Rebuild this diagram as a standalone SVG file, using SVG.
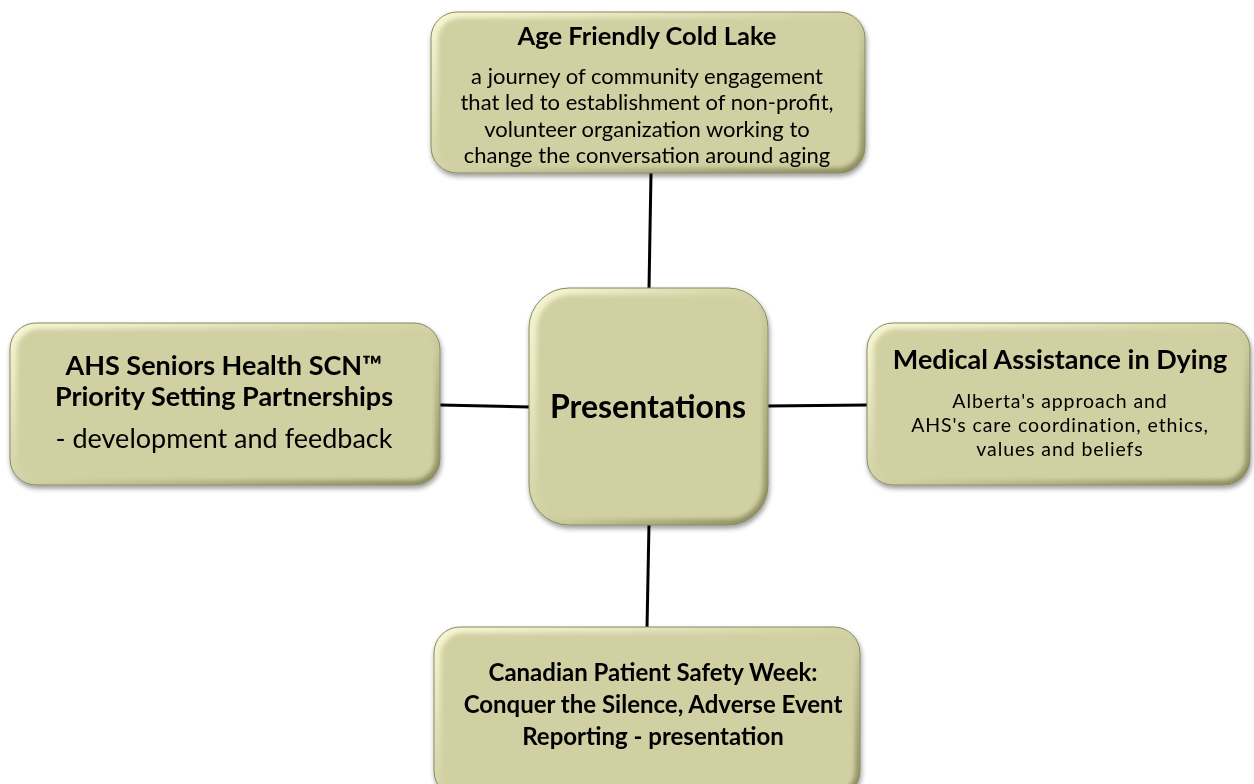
<svg xmlns="http://www.w3.org/2000/svg" width="1254" height="784" viewBox="0 0 1254 784">
<defs>
<linearGradient id="bevel" x1="0" y1="0" x2="1" y2="1">
<stop offset="0" stop-color="#f7f7d4"/>
<stop offset="0.5" stop-color="#d2d2a6"/>
<stop offset="1" stop-color="#8a8a5e"/>
</linearGradient>
<filter id="shadow" x="-10%" y="-10%" width="120%" height="130%">
<feGaussianBlur in="SourceAlpha" stdDeviation="2.5"/>
<feOffset dx="1" dy="3" result="b"/>
<feComponentTransfer><feFuncA type="linear" slope="0.4"/></feComponentTransfer>
<feMerge><feMergeNode/><feMergeNode in="SourceGraphic"/></feMerge>
</filter>
<filter id="soft"><feGaussianBlur stdDeviation="2"/></filter>
</defs>
<style>
.outer{fill:url(#bevel);stroke:#8a8a60;stroke-width:1}
.inner{fill:#d0d0a3;filter:url(#soft)}
.t{font-family:Lato,"Open Sans","Liberation Sans",sans-serif;fill:#000;text-anchor:middle}
.b{font-weight:bold}
.conn{stroke:#000;stroke-width:3;fill:none}
</style>
<g id="connectors">
<line class="conn" x1="651" y1="173" x2="649" y2="289"/>
<line class="conn" x1="440" y1="405" x2="530" y2="407"/>
<line class="conn" x1="767" y1="406" x2="868" y2="405"/>
<line class="conn" x1="649" y1="524" x2="647" y2="628"/>
</g>
<g id="top" filter="url(#shadow)">
<rect class="outer" x="431" y="12" width="434" height="161" rx="26"/>
<rect class="inner" x="438" y="18" width="422" height="150" rx="22"/>
<text class="t b" x="647" y="45" font-size="25.5">Age Friendly Cold Lake</text>
<text class="t" x="647" y="84" font-size="22">a journey of community engagement</text>
<text class="t" x="647" y="110" font-size="22">that led to establishment of non-profit,</text>
<text class="t" x="647" y="137" font-size="22">volunteer organization working to</text>
<text class="t" x="647" y="163" font-size="22">change the conversation around aging</text>
</g>
<g id="center" filter="url(#shadow)">
<rect class="outer" x="529" y="288" width="239" height="237" rx="40"/>
<rect class="inner" x="537" y="295" width="226" height="224" rx="34"/>
<text class="t b" x="648" y="418" font-size="32">Presentations</text>
</g>
<g id="left" filter="url(#shadow)">
<rect class="outer" x="10" y="323" width="430" height="162" rx="26"/>
<rect class="inner" x="17" y="329" width="418" height="151" rx="22"/>
<text class="t b" x="224" y="375" font-size="27">AHS Seniors Health SCN™</text>
<text class="t b" x="224" y="406" font-size="27">Priority Setting Partnerships</text>
<text class="t" x="224" y="448" font-size="27">- development and feedback</text>
</g>
<g id="right" filter="url(#shadow)">
<rect class="outer" x="867" y="323" width="383" height="162" rx="26"/>
<rect class="inner" x="874" y="329" width="371" height="151" rx="22"/>
<text class="t b" x="1060" y="369" font-size="27">Medical Assistance in Dying</text>
<text class="t" x="1060" y="408" font-size="19.5" letter-spacing="0.9">Alberta's approach and</text>
<text class="t" x="1060" y="432" font-size="19.5" letter-spacing="0.9">AHS's care coordination, ethics,</text>
<text class="t" x="1060" y="456" font-size="19.5" letter-spacing="0.9">values and beliefs</text>
</g>
<g id="bottom" filter="url(#shadow)">
<rect class="outer" x="434" y="627" width="426" height="170" rx="26"/>
<rect class="inner" x="441" y="633" width="414" height="160" rx="22"/>
<text class="t b" x="653" y="681" font-size="24">Canadian Patient Safety Week:</text>
<text class="t b" x="653" y="713" font-size="24">Conquer the Silence, Adverse Event</text>
<text class="t b" x="653" y="745" font-size="24">Reporting - presentation</text>
</g>
</svg>
